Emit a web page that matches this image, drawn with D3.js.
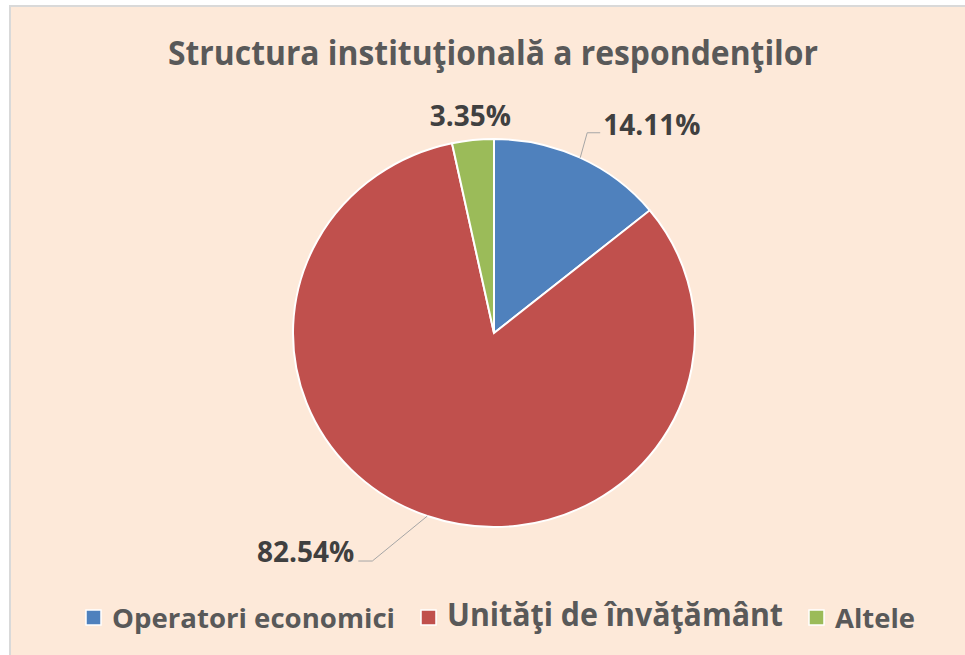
<!DOCTYPE html>
<html>
<head>
<meta charset="utf-8">
<script src="https://cdn.jsdelivr.net/npm/d3@7"></script>
<style>
  body { margin: 0; background: #fff; }
  svg { display: block; font-family: "Open Sans", "Noto Sans", sans-serif; }
</style>
</head>
<body>
<script>
// chart data
const title = "Structura instituţională a respondenţilor";
const categories = ["Operatori economici", "Unităţi de învăţământ", "Altele"];
const values = [14.11, 82.54, 3.35];
const colors = ["#4F81BD", "#C0504D", "#9BBB59"];

const W = 965, H = 655;
const cx = 494, cy = 333, rx = 201, ry = 194;

const svg = d3.select("body").append("svg")
  .attr("width", W)
  .attr("height", H);

// chart area background
svg.append("rect")
  .attr("x", 10).attr("y", 6)
  .attr("width", W).attr("height", H)
  .attr("fill", "#FDE9D9")
  .attr("stroke", "#D9D9D9")
  .attr("stroke-width", 2);

// title
svg.append("text")
  .attr("x", cx - 1).attr("y", 65)
  .attr("text-anchor", "middle")
  .attr("font-size", 34)
  .attr("font-weight", "bold")
  .attr("fill", "#595959")
  .attr("textLength", 650)
  .attr("lengthAdjust", "spacingAndGlyphs")
  .text(title);

const color = d3.scaleOrdinal().domain(categories).range(colors);

const pie = d3.pie().sort(null).value(d => d.value);
const arcs = pie(categories.map((c, i) => ({ name: c, value: values[i] })));

const arc = d3.arc().innerRadius(0).outerRadius(rx);

const g = svg.append("g")
  .attr("transform", `translate(${cx},${cy}) scale(1,${ry / rx})`);

g.selectAll("path")
  .data(arcs)
  .enter()
  .append("path")
  .attr("d", arc)
  .attr("fill", d => color(d.data.name))
  .attr("stroke", "#fff")
  .attr("stroke-width", 2);

// point on the (slightly squashed) pie at angle a, k = fraction of radius
function pt(a, k) {
  return [cx + k * rx * Math.sin(a), cy - k * ry * Math.cos(a)];
}
const mid = d => (d.startAngle + d.endAngle) / 2;
const fmt = v => v.toFixed(2) + "%";

const labelStyle = sel => sel
  .attr("font-size", 28)
  .attr("font-weight", "bold")
  .attr("fill", "#404040");

// leader line offsets for the labels that sit away from their slice
const leaders = [
  { elbow: [7, -25], end: [13, 0], anchor: "start", dx: 3, dy: 2 },
  { elbow: [-55, 45], end: [-14, 0], anchor: "end", dx: -4, dy: 1 },
  null
];

arcs.forEach((d, i) => {
  const L = leaders[i];
  if (L) {
    const p0 = pt(mid(d), 1);
    const p1 = [p0[0] + L.elbow[0], p0[1] + L.elbow[1]];
    const p2 = [p1[0] + L.end[0], p1[1] + L.end[1]];
    svg.append("path")
      .attr("d", d3.line()([p0, p1, p2]))
      .attr("fill", "none")
      .attr("stroke", "#A6A6A6")
      .attr("stroke-width", 1);
    svg.append("text")
      .attr("x", p2[0] + L.dx).attr("y", p2[1] + L.dy)
      .attr("text-anchor", L.anchor)
      .call(labelStyle)
      .text(fmt(d.data.value));
  } else {
    const p = pt(mid(d), 1.12);
    svg.append("text")
      .attr("x", p[0]).attr("y", p[1] + 9)
      .attr("text-anchor", "middle")
      .call(labelStyle)
      .text(fmt(d.data.value));
  }
});

// legend
const legendFont = [27, 32, 27];
const legendWidth = [283, 336, 80];
let lx = 86;
categories.forEach((c, i) => {
  svg.append("rect")
    .attr("x", lx).attr("y", 610)
    .attr("width", 15).attr("height", 15)
    .attr("fill", color(c))
    .attr("stroke", "#fff")
    .attr("stroke-width", 1.5);
  svg.append("text")
    .attr("x", lx + 26).attr("y", i === 1 ? 626 : 628)
    .attr("font-size", legendFont[i])
    .attr("font-weight", "bold")
    .attr("fill", "#595959")
    .attr("textLength", legendWidth[i])
    .attr("lengthAdjust", "spacingAndGlyphs")
    .text(c);
  lx += 26 + legendWidth[i] + 26;
});
</script>
</body>
</html>
